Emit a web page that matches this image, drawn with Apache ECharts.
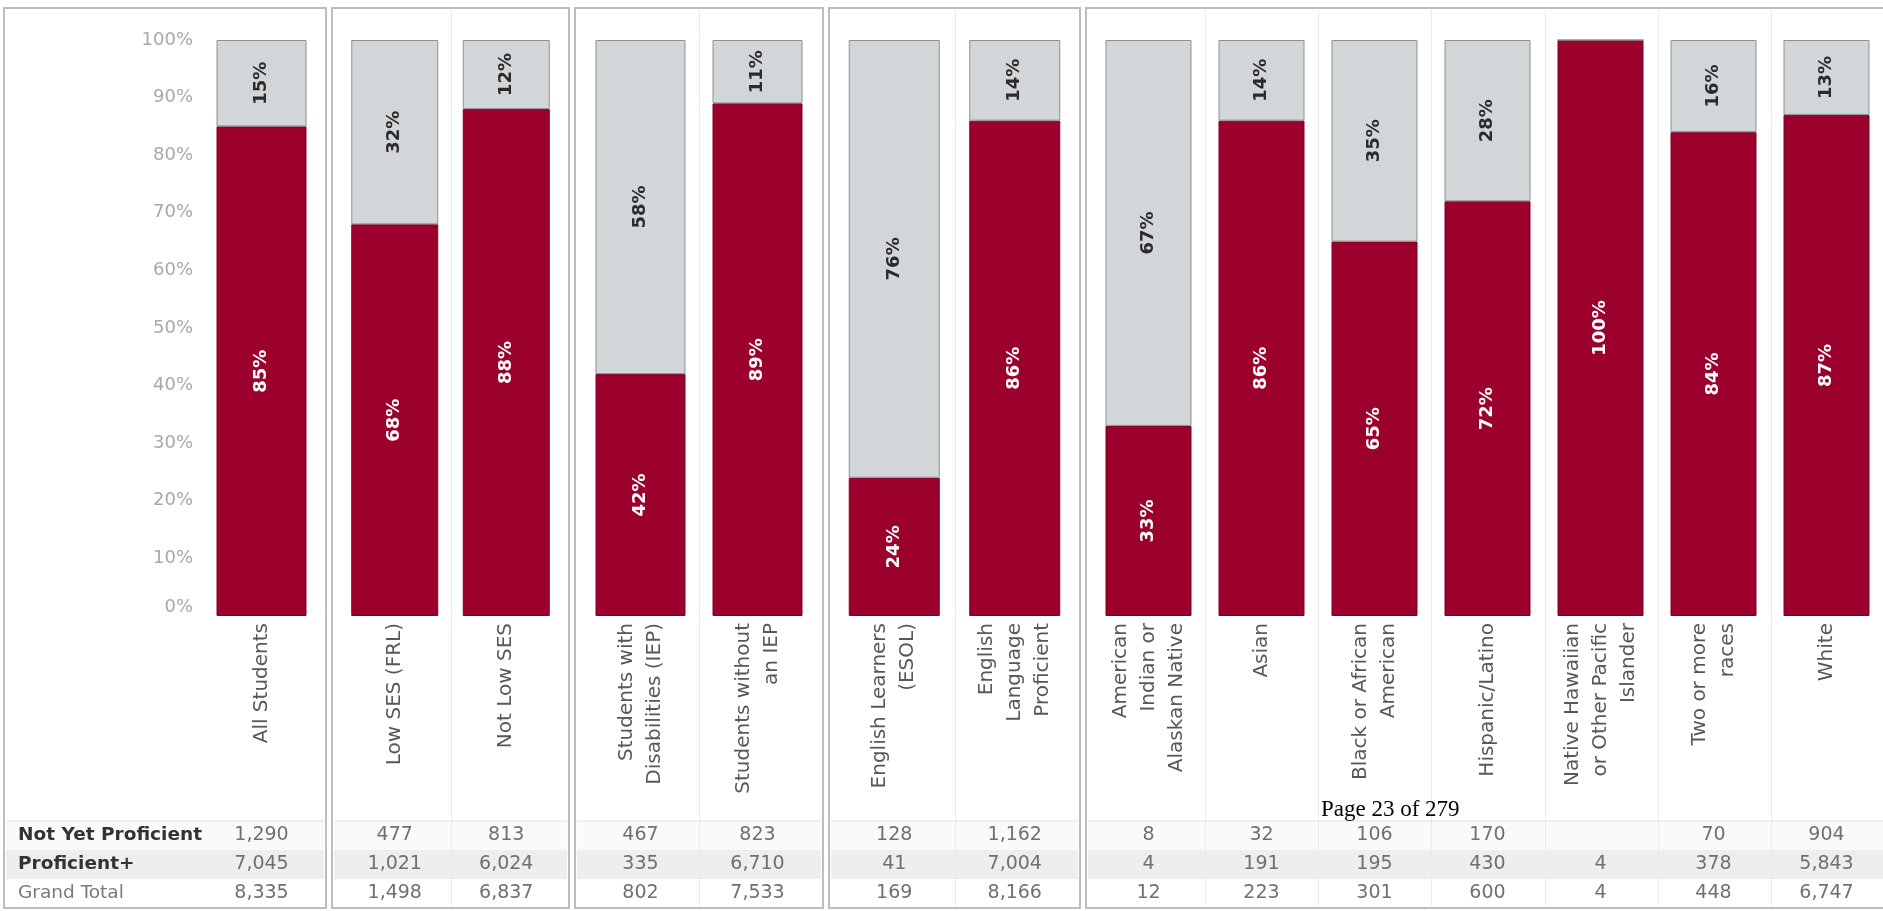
<!DOCTYPE html>
<html>
<head>
<meta charset="utf-8">
<script src="https://cdn.jsdelivr.net/npm/echarts@6/dist/echarts.min.js"></script>
<style>
  html, body { margin: 0; padding: 0; background: #ffffff; }
  #chart { width: 1883px; height: 911px; }
</style>
</head>
<body>
<div id="chart"></div>
<script>
// Student groups, in display order
const categories = [
  'All Students',
  'Low SES (FRL)', 'Not Low SES',
  'Students with\nDisabilities (IEP)', 'Students without\nan IEP',
  'English Learners\n(ESOL)', 'English\nLanguage\nProficient',
  'American\nIndian or\nAlaskan Native', 'Asian', 'Black or African\nAmerican',
  'Hispanic/Latino', 'Native Hawaiian\nor Other Pacific\nIslander', 'Two or more\nraces', 'White'
];
// How many groups sit in each framed panel
const panelSizes = [1, 2, 2, 2, 7];

// Share of students in each band (percent)
const proficientPct = [85, 68, 88, 42, 89, 24, 86, 33, 86, 65, 72, 100, 84, 87];
const notYetPct     = [15, 32, 12, 58, 11, 76, 14, 67, 14, 35, 28, 0, 16, 13];

// Student counts shown in the table under the bars
const notYetCount     = [1290, 477, 813, 467, 823, 128, 1162, 8, 32, 106, 170, null, 70, 904];
const proficientCount = [7045, 1021, 6024, 335, 6710, 41, 7004, 4, 191, 195, 430, 4, 378, 5843];
const totalCount      = [8335, 1498, 6837, 802, 7533, 169, 8166, 12, 223, 301, 600, 4, 448, 6747];
const rowLabels = ['Not Yet Proficient', 'Proficient+', 'Grand Total'];

// Percent axis
const yMin = 0, yMax = 100, yStep = 10;

// ---- layout (pixels) ----
const FONT = '"DejaVu Sans", sans-serif';
const RED = '#9c002d';
const GRAY = '#d3d6d8';
const plotTop = 40, plotHeight = 576;
const frameTop = 8, frameBottom = 908;
const rowTop = 821, rowH = 29;
const panelLayout = [
  { box: [4, 326],     left: 205, width: 113, bar: 90 },
  { box: [332, 569],   left: 339, width: 223, bar: 87 },
  { box: [575, 823],   left: 582, width: 234, bar: 90 },
  { box: [829, 1080],  left: 834, width: 241, bar: 91 },
  { box: [1086, 1896], left: 1092, width: 792, bar: 86 }
];

const fmt = n => (n == null ? '' : n.toLocaleString('en-US'));

const grid = [], xAxis = [], yAxis = [], series = [], graphic = [];
let start = 0;
panelSizes.forEach((count, i) => {
  const L = panelLayout[i];
  const s0 = start;
  const cats = categories.slice(s0, s0 + count);

  grid.push({ left: L.left, width: L.width, top: plotTop, height: plotHeight });

  // category names, written upward under each bar
  xAxis.push({
    type: 'category', gridIndex: i, data: cats,
    axisLine: { show: false }, axisTick: { show: false }, splitLine: { show: false },
    axisLabel: {
      interval: 0, rotate: 90, margin: 7,
      fontFamily: FONT, fontSize: 20, color: '#585858', lineHeight: 28
    }
  });
  // count table columns, one per group
  xAxis.push({
    type: 'category', gridIndex: i, data: cats, position: 'bottom', offset: 199,
    axisLine: { show: false }, axisTick: { show: false }, splitLine: { show: false },
    axisLabel: {
      interval: 0, margin: 6, align: 'center',
      fontFamily: FONT, fontSize: 19, color: '#707070', lineHeight: rowH,
      formatter: (v, idx) => {
        const g = s0 + idx;
        return [fmt(notYetCount[g]), fmt(proficientCount[g]), fmt(totalCount[g])].join('\n');
      }
    }
  });

  yAxis.push({
    type: 'value', gridIndex: i, min: yMin, max: yMax, interval: yStep,
    axisLine: { show: false }, axisTick: { show: false }, splitLine: { show: false },
    axisLabel: {
      show: i === 0, margin: 12, formatter: '{value}%',
      fontFamily: FONT, fontSize: 18, color: '#a8a8a8',
      verticalAlignMinLabel: 'bottom'
    }
  });

  const labelBase = {
    show: true, position: 'inside', rotate: 90,
    fontFamily: FONT, fontSize: 18, fontWeight: 'bold',
    formatter: p => (p.value ? p.value + '%' : '')
  };
  series.push({
    type: 'bar', name: 'Proficient+', stack: 'p' + i,
    xAxisIndex: 2 * i, yAxisIndex: i, barWidth: L.bar,
    data: proficientPct.slice(s0, s0 + count),
    itemStyle: { color: RED, borderColor: '#7d0024', borderWidth: 1 },
    label: Object.assign({ color: '#ffffff' }, labelBase),
    silent: true
  });
  series.push({
    type: 'bar', name: 'Not Yet Proficient', stack: 'p' + i,
    xAxisIndex: 2 * i, yAxisIndex: i, barWidth: L.bar,
    data: notYetPct.slice(s0, s0 + count),
    itemStyle: { color: GRAY, borderColor: '#8f8f8f', borderWidth: 1 },
    label: Object.assign({ color: '#2b2b2b' }, labelBase),
    silent: true
  });

  // table row shading within the panel
  const bx0 = L.box[0] + 2, bx1 = L.box[1] - 2;
  graphic.push({ type: 'rect', z: -10, shape: { x: bx0, y: rowTop, width: bx1 - bx0, height: rowH },
    style: { fill: '#fafafa' } });
  graphic.push({ type: 'rect', z: -10, shape: { x: bx0, y: rowTop + rowH, width: bx1 - bx0, height: rowH },
    style: { fill: '#eeeeee' } });
  graphic.push({ type: 'line', z: -9, shape: { x1: bx0, y1: rowTop, x2: bx1, y2: rowTop },
    style: { stroke: '#e2e2e2', lineWidth: 1 } });

  // faint dividers between group columns
  const cellW = L.width / count;
  for (let k = 1; k < count; k++) {
    const x = Math.round(L.left + k * cellW) + 0.5;
    graphic.push({ type: 'line', z: -9, shape: { x1: x, y1: frameTop + 2, x2: x, y2: frameBottom - 2 },
      style: { stroke: '#ebebeb', lineWidth: 1 } });
  }

  // panel frame
  graphic.push({ type: 'rect', z: 5,
    shape: { x: L.box[0], y: frameTop, width: L.box[1] - L.box[0], height: frameBottom - frameTop },
    style: { fill: 'none', stroke: '#bdbdbd', lineWidth: 2 } });

  start += count;
});

// table row headings
rowLabels.forEach((t, r) => {
  graphic.push({ type: 'text', z: 20, x: 18, y: rowTop + rowH * r + rowH / 2,
    style: { text: t, fontFamily: FONT, fontSize: 18.5, fontWeight: r < 2 ? 'bold' : 'normal',
      fill: r < 2 ? '#333333' : '#7a7a7a', textVerticalAlign: 'middle', verticalAlign: 'middle' } });
});

// page footer stamp
graphic.push({ type: 'text', z: 30, x: 1321, y: 810,
  style: { text: 'Page 23 of 279', fontFamily: '"Liberation Serif", serif', fontSize: 23,
    fill: '#000000', verticalAlign: 'middle', textVerticalAlign: 'middle' } });

const chart = echarts.init(document.getElementById('chart'), null, { renderer: 'canvas' });
chart.setOption({
  animation: false,
  backgroundColor: '#ffffff',
  grid, xAxis, yAxis, series, graphic
});
</script>
</body>
</html>
